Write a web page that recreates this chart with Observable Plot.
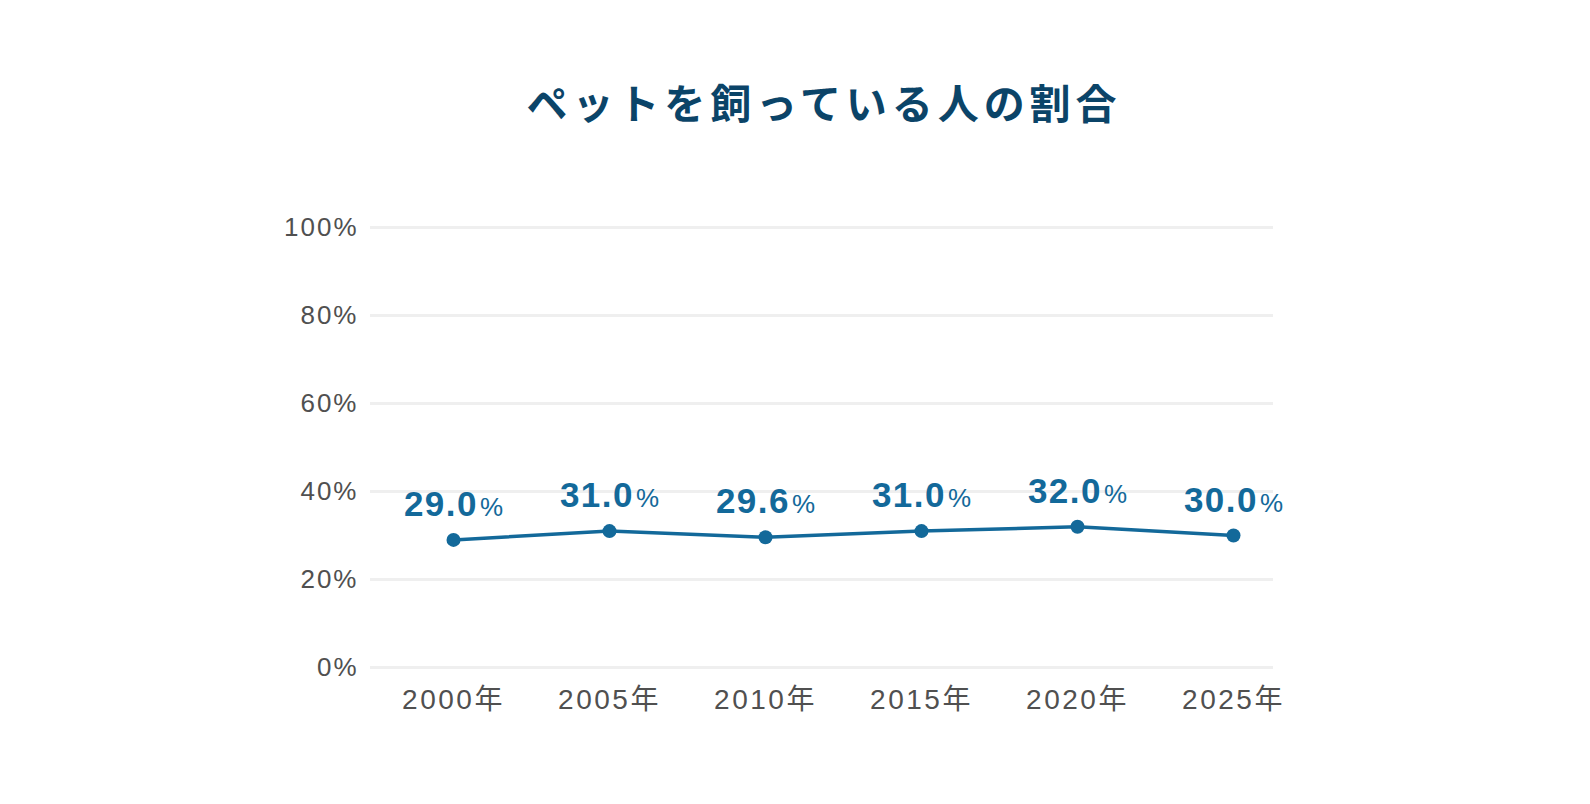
<!DOCTYPE html>
<html>
<head>
<meta charset="utf-8">
<script src="https://cdn.jsdelivr.net/npm/d3@7"></script>
<script src="https://cdn.jsdelivr.net/npm/@observablehq/plot@0.6"></script>
<style>
  html, body { margin: 0; padding: 0; background: #fff; }
  #wrap { position: relative; width: 1590px; height: 804px; }
  #title {
    position: absolute; left: 370px; width: 903px; top: 0; height: 150px;
    display: flex; align-items: center; justify-content: center;
    font-family: "Noto Sans CJK JP", sans-serif; font-weight: 700;
    font-size: 41px; letter-spacing: 0.12em; padding-left: 0.12em; box-sizing: border-box;
    color: #0b4468; padding-top: 52px;
  }
  #chart { position: absolute; left: 0; top: 150px; }
  g[aria-label="y-axis tick label"] text { letter-spacing: 2px; }
  g[aria-label="x-axis tick label"] text { letter-spacing: 2.5px; }
  tspan.pct { font-size: 26px; font-weight: normal; }
</style>
</head>
<body>
<div id="wrap">
  <div id="title">ペットを飼っている人の割合</div>
  <div id="chart"></div>
</div>
<script>
const years = ["2000", "2005", "2010", "2015", "2020", "2025"];
const values = [29.0, 31.0, 29.6, 31.0, 32.0, 30.0];
const yTicks = [0, 20, 40, 60, 80, 100];

const data = years.map((y, i) => ({year: y, value: values[i]}));
const blue = "#13699a";

const chart = Plot.plot({
  width: 1590,
  height: 654,
  marginTop: 77,
  marginBottom: 137,
  marginLeft: 370,
  marginRight: 317,
  style: {fontFamily: "'Liberation Sans', 'Noto Sans CJK JP', sans-serif", color: "#505050", background: "#fff"},
  x: {type: "point", domain: years, padding: 0, insetLeft: 83, insetRight: 40},
  y: {domain: [0, 100]},
  marks: [
    Plot.gridY(yTicks, {stroke: "#efefef", strokeWidth: 3, strokeOpacity: 1}),
    Plot.axisY({ticks: yTicks, tickSize: 0, tickPadding: 12, tickFormat: d => d + "%", fontSize: 26, label: null}),
    Plot.axisX({tickSize: 0, tickPadding: 22, tickFormat: d => d + "年", fontSize: 28, label: null}),
    Plot.line(data, {x: "year", y: "value", stroke: blue, strokeWidth: 3.5}),
    Plot.dot(data, {x: "year", y: "value", r: 7, fill: blue, stroke: "none"}),
    Plot.text(data, {x: "year", y: "value", text: d => d.value.toFixed(1) + "%", dy: -35,
      fill: blue, fontSize: 35, fontWeight: "bold"})
  ]
});

d3.select(chart).selectAll("text").filter(function() {
  const p = this.parentNode;
  return (p && p.getAttribute && p.getAttribute("fill") === blue) || this.getAttribute("fill") === blue;
}).each(function() {
  const t = d3.select(this);
  const s = t.text();
  if (!s.endsWith("%")) return;
  const num = s.slice(0, -1);
  t.text(null);
  t.append("tspan").text(num).attr("letter-spacing", "1.5px");
  t.append("tspan").attr("class", "pct").attr("font-size", 26).attr("font-weight", "normal").attr("dx", 2).text("%");
});

document.getElementById("chart").appendChild(chart);
</script>
</body>
</html>
